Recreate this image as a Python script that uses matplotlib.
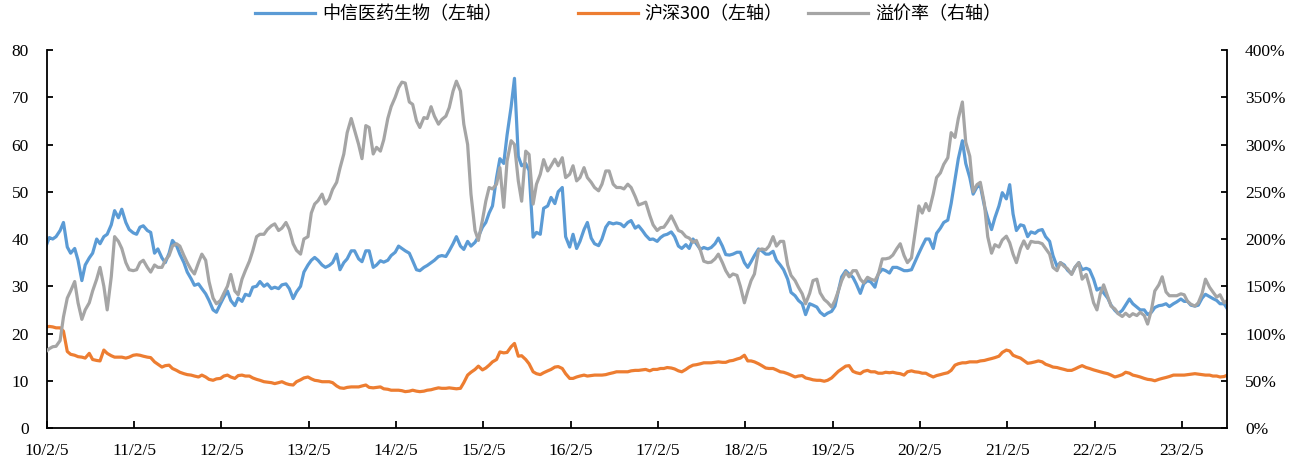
import matplotlib
matplotlib.use("Agg")
import matplotlib.pyplot as plt
import pandas as pd

# Series labels and x-axis tick years
series_names = ["中信医药生物（左轴）", "沪深300（左轴）", "溢价率（右轴）"]
tick_years = list(range(2010, 2024))

# Semi-monthly PE (TTM) of the CITIC pharma & biotech index, left axis
pharma_pe = [
    38.5, 40.3, 40, 40.5, 41.8, 43.5, 38.3, 37, 38, 35.5,
    31.2, 34.5, 36, 37, 40, 39, 40.5, 41, 43, 46,
    44.5, 46.3, 43.5, 42, 41.3, 41, 42.5, 42.8, 41.8, 41.4,
    37, 37.9, 36, 35, 37, 39.7, 38.6, 36.8, 35, 33,
    31.6, 30.2, 30.5, 29.5, 28.4, 27, 25, 24.5, 26.3, 27.7,
    29, 27, 25.9, 27.5, 26.8, 28.3, 28, 29.8, 30, 31,
    30, 30.5, 29.5, 29.8, 29.5, 30.3, 30.5, 29.5, 27.4, 28.8,
    30, 33, 34.5, 35.5, 36.1, 35.5, 34.5, 34, 34.4, 35,
    36.8, 33.5, 35, 35.8, 37.5, 37.5, 35.8, 35.2, 37.5, 37.5,
    34, 34.5, 35.4, 35.1, 35.5, 36.5, 37.2, 38.5, 38, 37.5,
    37, 35.4, 33.5, 33.3, 34, 34.4, 35, 35.5, 36.3, 36.5,
    36.3, 37.5, 39, 40.5, 38.5, 37.8, 39.5, 38.5, 39.3, 40.5,
    42.5, 43.5, 45.5, 47, 53, 57, 56, 62, 68, 74,
    57.5, 55.5, 56, 54.5, 40.4, 41.4, 41, 46.5, 47, 48.8,
    47.5, 50, 50.9, 40.5, 38.3, 41, 38, 39.5, 42, 43.5,
    40.2, 39, 38.6, 40, 42.5, 43.5, 43.2, 43.4, 43.2, 42.6,
    43.5, 43.9, 42.3, 42.8, 41.8, 40.8, 39.9, 40, 39.5, 40.3,
    40.8, 41, 41.5, 40.5, 38.5, 38, 38.8, 38, 40, 39,
    37.8, 38.2, 37.9, 38.2, 39, 40.2, 38.5, 36.7, 36.6, 36.8,
    37.2, 37.2, 35, 34, 35.2, 36.5, 37.9, 37.5, 36.8, 36.8,
    37.4, 35.5, 34.5, 33.5, 31.5, 28.7, 28, 27, 26.3, 24,
    26.3, 26, 25.6, 24.5, 23.8, 24.3, 24.7, 25.8, 29, 32,
    33.3, 32.6, 31.9, 30.5, 28.5, 30.5, 31.2, 30.9, 29.8, 32.6,
    33.6, 33.3, 32.8, 34, 34, 33.7, 33.3, 33.3, 33.5, 35.1,
    37, 38.5, 40, 40, 38, 41.2, 42.3, 43.5, 44, 47.5,
    52.5, 57, 60.8, 56, 53, 49.5, 51, 51.3, 47, 44.5,
    42, 44.5, 47, 49.8, 48.5, 51.5, 45.3, 41.8, 43, 42.8,
    40.5, 41.5, 41.2, 41.8, 42, 40.5, 39.5, 36.5, 34.2, 35,
    34.5, 33.4, 32.6, 34, 35, 33.5, 33.8, 33.5, 31.5, 29.2,
    29.6, 28.6, 27.5, 26, 24.9, 24.2, 24.9, 26, 27.3, 26.3,
    25.6, 25, 25, 24, 24.5, 25.5, 25.9, 26, 26.3, 25.7,
    26.3, 26.7, 27.3, 26.8, 26.8, 26, 25.8, 26, 27.5, 28.3,
    27.8, 27.4, 27, 26.3, 26.3, 25.2,
]

# Semi-monthly PE (TTM) of the CSI 300, left axis
csi300_pe = [
    21.4, 21.5, 21.4, 21.2, 21.2, 20.5, 16.2, 15.6, 15.4, 15.1,
    15, 14.8, 15.8, 14.5, 14.3, 14.2, 16.5, 15.8, 15.3, 15,
    15, 15, 14.8, 15, 15.4, 15.5, 15.4, 15.2, 15, 14.9,
    14, 13.5, 12.9, 13.2, 13.3, 12.6, 12.2, 11.8, 11.5, 11.3,
    11.2, 11, 10.8, 11.2, 10.8, 10.3, 10.1, 10.4, 10.5, 11,
    11.2, 10.8, 10.5, 11.1, 11.2, 11, 11, 10.6, 10.3, 10.1,
    9.8, 9.7, 9.6, 9.4, 9.6, 9.8, 9.4, 9.2, 9.1, 9.8,
    10.2, 10.6, 10.8, 10.4, 10.1, 10, 9.8, 9.8, 9.8, 9.6,
    8.9, 8.5, 8.4, 8.6, 8.7, 8.7, 8.7, 8.9, 9.1, 8.6,
    8.5, 8.6, 8.7, 8.3, 8.2, 8.0, 8.0, 8.0, 7.9, 7.7,
    7.8, 8, 7.8, 7.7, 7.8, 8.0, 8.1, 8.3, 8.5, 8.4,
    8.4, 8.5, 8.4, 8.3, 8.4, 9.6, 11.2, 11.8, 12.4, 13.1,
    12.3, 12.7, 13.3, 14, 14.5, 16.1, 15.9, 16, 17.2, 17.9,
    15.2, 15.3, 14.5, 13.6, 11.9, 11.5, 11.3, 11.7, 12.1, 12.4,
    12.9, 13, 12.6, 11.5, 10.5, 10.5, 10.8, 11, 11.2, 11,
    11.1, 11.2, 11.2, 11.2, 11.3, 11.5, 11.7, 11.9, 11.9, 11.9,
    11.9, 12.1, 12.2, 12.2, 12.3, 12.4, 12.1, 12.4, 12.4, 12.6,
    12.6, 12.8, 12.7, 12.5, 12.1, 11.9, 12.4, 12.9, 13.3, 13.4,
    13.6, 13.8, 13.8, 13.8, 13.9, 14, 13.9, 13.9, 14.2, 14.3,
    14.6, 14.8, 15.4, 14.2, 14.2, 14, 13.6, 13.2, 12.7, 12.6,
    12.6, 12.3, 11.9, 11.8, 11.5, 11.2, 10.8, 11, 11.1, 10.6,
    10.4, 10.2, 10.1, 10.1, 9.9, 10.1, 10.6, 11.3, 12, 12.5,
    13.1, 13.2, 12, 11.7, 11.5, 12, 12.2, 11.9, 11.9, 11.6,
    11.6, 11.8, 11.7, 11.8, 11.6, 11.5, 11.2, 11.9, 12.1, 11.9,
    11.8, 11.6, 11.6, 11.2, 10.8, 11.1, 11.3, 11.5, 11.7, 12.2,
    13.3, 13.6, 13.8, 13.8, 14, 14, 14, 14.2, 14.3, 14.5,
    14.7, 14.9, 15.2, 16, 16.5, 16.3, 15.4, 15.1, 14.8, 14.3,
    13.7, 13.8, 14, 14.2, 14, 13.5, 13.2, 12.9, 12.8, 12.6,
    12.4, 12.2, 12.2, 12.5, 12.9, 13.2, 12.8, 12.6, 12.3, 12.1,
    11.9, 11.7, 11.5, 11.2, 10.8, 11, 11.3, 11.8, 11.6, 11.2,
    11, 10.8, 10.5, 10.3, 10.2, 10, 10.3, 10.5, 10.7, 10.9,
    11.2, 11.2, 11.2, 11.2, 11.3, 11.4, 11.5, 11.4, 11.3, 11.2,
    11.2, 11, 11, 10.8, 10.9, 11.2,
]

# Valuation premium of the pharma index over the CSI 300, in %, right axis
premium_pct = [
    81, 84, 86, 86.5, 92.5, 117.5, 137.5, 145, 155, 132.5,
    115, 125, 132.5, 145, 157.5, 170, 150, 125, 160, 202.5,
    197.5, 190, 175, 167.5, 166.5, 167.5, 175, 177.5, 170, 165,
    172.5, 170, 170, 177.5, 182.5, 192.5, 195, 192.5, 182.5, 175,
    167.5, 163, 175, 184, 177.5, 155, 137.5, 131.5, 135, 142.5,
    150, 162.5, 145, 141, 157.5, 166.5, 176.5, 187.5, 202.5, 205,
    205, 210, 214, 216, 209, 211.5, 217.5, 210, 195, 188,
    184, 200, 202.5, 227.5, 237, 240.5, 247.5, 237, 242.5, 252.5,
    260, 275, 290, 312.5, 327.5, 315, 300, 285, 320, 318,
    290, 297, 293, 305, 327.5, 340, 350, 360, 366, 365,
    345, 342.5, 325, 318, 328.5, 327.5, 340, 330, 321.5, 326.5,
    330, 339, 356.5, 367, 356.5, 321.5, 300, 247.5, 209, 198.5,
    220, 240, 254.5, 253, 258, 275.5, 233.5, 282.5, 304, 300,
    261.5, 240, 293, 289.5, 237, 258, 268.5, 284, 272, 277.5,
    284.5, 277.5, 286, 265, 268.5, 277.5, 261.5, 265, 275.5, 265,
    260, 254.5, 251, 258, 272, 272, 258, 254.5, 254.5, 253,
    258, 254.5, 245, 236, 237.5, 239, 225, 215, 209, 212,
    212.5, 217.5, 224.5, 217.5, 209, 207.5, 202.5, 201, 196.5, 198.5,
    188, 176.5, 175, 175.5, 179, 184, 175, 166.5, 160, 163,
    161.5, 150, 132.5, 145, 156, 163, 188, 189.5, 188.5, 192.5,
    202.5, 192.5, 197.5, 197.5, 172.5, 161.5, 156, 149, 142, 131.5,
    142.5, 156, 157.5, 143, 136, 133, 128, 135, 145, 156,
    165, 160, 166.5, 166.5, 157.5, 153.5, 159.5, 157.5, 156, 162.5,
    179, 179, 180, 183, 190, 195, 182.5, 175, 180, 205,
    235, 227.5, 237.5, 230, 247.5, 265, 270, 279, 286, 312.5,
    307.5, 327.5, 345, 302.5, 287.5, 250, 257.5, 260, 237.5, 202.5,
    185, 194, 191.5, 199, 203, 196, 184, 175, 190, 198,
    190, 197.5, 196.5, 196.5, 195, 190, 184, 170, 166.5, 175,
    171, 168.5, 162.5, 170, 175, 157.5, 162.5, 150, 132.5, 125,
    142, 151.5, 139, 129, 126, 121, 118, 121.5, 118, 121,
    119, 122.5, 119, 110, 125, 145, 151.5, 160, 144, 140,
    140, 140, 142, 141, 134, 131, 129, 132.5, 142.5, 157.5,
    149, 144, 138.5, 141, 132.5, 135,
]

dates = pd.date_range("2010-02-01", periods=len(pharma_pe), freq="SMS")

BLUE = "#5B9BD5"
ORANGE = "#ED7D31"
GRAY = "#A5A5A5"
LW = 2.3
TICK_FONT = {"family": "Liberation Serif", "size": 12.5}

fig = plt.figure(figsize=(13.01, 4.66), dpi=100)
ax = fig.add_axes([0.0361, 0.0815, 0.907, 0.8112])
ax2 = ax.twinx()

l1, = ax.plot(dates, pharma_pe, color=BLUE, lw=LW, solid_joinstyle="round")
l2, = ax.plot(dates, csi300_pe, color=ORANGE, lw=LW, solid_joinstyle="round")
l3, = ax2.plot(dates, premium_pct, color=GRAY, lw=LW, solid_joinstyle="round")

ax.set_xlim(pd.Timestamp("2010-02-05"), pd.Timestamp("2023-08-13"))
ax.set_ylim(0, 80)
ax2.set_ylim(0, 400)

tick_dates = [pd.Timestamp(y, 2, 5) for y in tick_years]
ax.set_xticks(tick_dates)
ax.set_xticklabels([f"{d.year % 100}/{d.month}/{d.day}" for d in tick_dates], **TICK_FONT)

ax.set_yticks(range(0, 81, 10))
ax.set_yticklabels([str(v) for v in range(0, 81, 10)], **TICK_FONT)
ax2.set_yticks(range(0, 401, 50))
ax2.set_yticklabels([f"{v}%" for v in range(0, 401, 50)], **TICK_FONT)

for a in (ax, ax2):
    a.spines["top"].set_visible(False)
    for s in a.spines.values():
        s.set_linewidth(1.3)
        s.set_color("black")
ax2.spines["left"].set_visible(False)
ax2.spines["bottom"].set_visible(False)
ax.spines["right"].set_visible(False)

ax.tick_params(axis="x", direction="in", length=5, width=1.3, pad=11)
ax.tick_params(axis="y", direction="in", length=4, width=1.3, pad=13)
ax2.tick_params(axis="y", direction="in", length=4, width=1.3, pad=13)

# One legend entry per series, laid out along the top edge
legend_x = [255 / 1301, 578 / 1301, 808 / 1301]
for handle, name, x0 in zip([l1, l2, l3], series_names, legend_x):
    fig.legend(
        [handle], [name],
        loc="center left", bbox_to_anchor=(x0, 0.97), frameon=False,
        prop={"family": ["Noto Sans CJK SC", "DejaVu Sans"], "size": 13},
        handlelength=3.3, handletextpad=0.4, borderpad=0, borderaxespad=0,
    )

fig.savefig("out.png", dpi=100)
